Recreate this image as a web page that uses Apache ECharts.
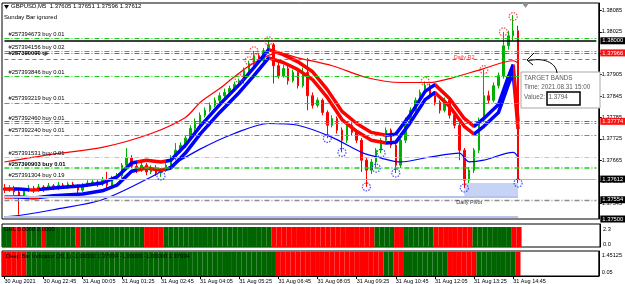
<!DOCTYPE html>
<html><head><meta charset="utf-8">
<script src="https://cdn.jsdelivr.net/npm/echarts@6/dist/echarts.min.js"></script>
<style>html,body{margin:0;padding:0;background:#fff}#c{width:625px;height:284px}</style>
</head><body><div id="c"></div>
<script>
// ---------- DATA ----------
const timeLabels = ['30 Aug 2021','30 Aug 22:45','31 Aug 00:05','31 Aug 01:25','31 Aug 02:45','31 Aug 04:05','31 Aug 05:25','31 Aug 06:45','31 Aug 08:05','31 Aug 09:25','31 Aug 10:45','31 Aug 12:05','31 Aug 13:25','31 Aug 14:45'];
const barsPerLabel = 8;
const totalSlots = 122;

// [open, close, low, high]
const candles = [
[1.37587,1.37581,1.37573,1.37598],[1.37581,1.37587,1.37576,1.37595],[1.37587,1.37576,1.37567,1.37593],[1.37576,1.37567,1.37512,1.37584],
[1.37567,1.37581,1.37562,1.37587],[1.37581,1.37587,1.37576,1.37595],[1.37587,1.37581,1.37573,1.37593],[1.37581,1.37590,1.37576,1.37598],
[1.37590,1.37584,1.37576,1.37595],[1.37584,1.37593,1.37581,1.37601],[1.37593,1.37587,1.37581,1.37598],[1.37587,1.37595,1.37581,1.37604],
[1.37595,1.37590,1.37584,1.37601],[1.37590,1.37598,1.37584,1.37604],[1.37598,1.37593,1.37587,1.37604],[1.37593,1.37581,1.37562,1.37598],
[1.37581,1.37595,1.37576,1.37601],[1.37595,1.37601,1.37590,1.37609],[1.37601,1.37604,1.37595,1.37612],[1.37604,1.37598,1.37590,1.37609],
[1.37598,1.37609,1.37593,1.37618],[1.37609,1.37595,1.37581,1.37632],[1.37595,1.37615,1.37590,1.37621],[1.37615,1.37621,1.37609,1.37629],
[1.37621,1.37651,1.37615,1.37657],[1.37651,1.37671,1.37643,1.37699],[1.37671,1.37648,1.37643,1.37679],[1.37648,1.37637,1.37629,1.37657],
[1.37637,1.37651,1.37632,1.37660],[1.37651,1.37632,1.37623,1.37657],[1.37632,1.37643,1.37626,1.37651],[1.37643,1.37629,1.37621,1.37651],
[1.37629,1.37637,1.37618,1.37643],[1.37637,1.37651,1.37632,1.37657],[1.37651,1.37671,1.37643,1.37679],[1.37671,1.37693,1.37665,1.37713],
[1.37693,1.37707,1.37685,1.37715],[1.37707,1.37727,1.37699,1.37735],[1.37727,1.37754,1.37721,1.37763],[1.37754,1.37771,1.37746,1.37782],
[1.37771,1.37791,1.37763,1.37799],[1.37791,1.37805,1.37785,1.37813],[1.37805,1.37819,1.37799,1.37827],[1.37819,1.37833,1.37813,1.37841],
[1.37833,1.37846,1.37827,1.37855],[1.37846,1.37855,1.37838,1.37866],[1.37855,1.37866,1.37846,1.37874],[1.37866,1.37877,1.37858,1.37885],
[1.37877,1.37888,1.37869,1.37894],[1.37888,1.37916,1.37880,1.37925],[1.37916,1.37936,1.37908,1.37944],[1.37936,1.37958,1.37930,1.37972],
[1.37958,1.37944,1.37936,1.37964],[1.37944,1.37972,1.37938,1.37980],[1.37972,1.37989,1.37964,1.38000],[1.37989,1.37930,1.37880,1.37994],
[1.37930,1.37902,1.37894,1.37941],[1.37902,1.37922,1.37897,1.37933],[1.37922,1.37888,1.37877,1.37930],[1.37888,1.37911,1.37883,1.37919],
[1.37911,1.37874,1.37866,1.37919],[1.37874,1.37911,1.37869,1.37925],[1.37911,1.37846,1.37805,1.37952],[1.37846,1.37819,1.37810,1.37855],
[1.37819,1.37833,1.37813,1.37841],[1.37833,1.37799,1.37791,1.37838],[1.37799,1.37763,1.37727,1.37805],[1.37763,1.37782,1.37757,1.37791],
[1.37782,1.37749,1.37740,1.37788],[1.37749,1.37721,1.37687,1.37757],[1.37721,1.37763,1.37713,1.37771],[1.37763,1.37743,1.37735,1.37771],
[1.37743,1.37721,1.37713,1.37752],[1.37721,1.37665,1.37632,1.37727],[1.37665,1.37637,1.37590,1.37671],[1.37637,1.37660,1.37626,1.37668],
[1.37660,1.37693,1.37643,1.37699],[1.37693,1.37721,1.37685,1.37727],[1.37721,1.37749,1.37713,1.37757],[1.37749,1.37707,1.37699,1.37754],
[1.37707,1.37651,1.37629,1.37713],[1.37651,1.37721,1.37643,1.37727],[1.37721,1.37777,1.37713,1.37785],[1.37777,1.37805,1.37771,1.37813],
[1.37805,1.37833,1.37799,1.37841],[1.37833,1.37855,1.37827,1.37863],[1.37855,1.37874,1.37849,1.37886],[1.37874,1.37846,1.37838,1.37880],
[1.37846,1.37827,1.37819,1.37855],[1.37827,1.37805,1.37796,1.37833],[1.37805,1.37833,1.37799,1.37841],[1.37833,1.37791,1.37782,1.37838],
[1.37791,1.37763,1.37754,1.37799],[1.37763,1.37693,1.37665,1.37771],[1.37693,1.37609,1.37587,1.37699],[1.37609,1.37637,1.37601,1.37646],
[1.37637,1.37693,1.37629,1.37699],[1.37693,1.37777,1.37685,1.37785],[1.37777,1.37846,1.37771,1.37919],[1.37846,1.37833,1.37824,1.37860],
[1.37833,1.37874,1.37827,1.37883],[1.37874,1.37902,1.37866,1.37911],[1.37902,1.37986,1.37894,1.38025],[1.37986,1.38014,1.37975,1.38028],
[1.38014,1.38028,1.38000,1.38072],[1.38028,1.37612,1.37601,1.38042]
];

// Target bands (bar index, upper, lower) and trend sections
const bandIdx   = [0,3,6,10,16,20,23,26,29,32,34,37,40,44,48,51,54,57,60,63,66,69,72,75,78,80,83,86,88,91,94,96,98,101,103,104,105];
const bandUpper = [1.37584,1.37584,1.37581,1.37587,1.37593,1.37601,1.37618,1.37657,1.37665,1.37660,1.37665,1.37707,1.37760,1.37821,1.37877,1.37925,1.37975,1.37961,1.37941,1.37913,1.37863,1.37802,1.37768,1.37743,1.37735,1.37738,1.37793,1.37858,1.37877,1.37838,1.37782,1.37760,1.37782,1.37821,1.37899,1.37933,1.37774];
const bandLower = [1.37562,1.37562,1.37559,1.37565,1.37570,1.37579,1.37595,1.37634,1.37643,1.37637,1.37643,1.37685,1.37738,1.37799,1.37855,1.37902,1.37952,1.37939,1.37919,1.37891,1.37841,1.37779,1.37746,1.37721,1.37713,1.37715,1.37771,1.37835,1.37855,1.37816,1.37760,1.37738,1.37760,1.37799,1.37877,1.37911,1.37752];
const bandBreaks = [0,2.4,5.2,6.8,27,33.2,54.2,77.7,87.9,96.4,103.8,106];
const bandTrend  = ['down','up','down','up','down','up','down','up','down','up','down'];

// Moving averages (bar index, value)
const maRedIdx  = [0,10,20,30,37,40,44,47,51,56,60,67,74,81,87,91,98,104,105];
const maRedVal  = [1.37660,1.37682,1.37701,1.37740,1.37785,1.37827,1.37866,1.37899,1.37938,1.37966,1.37952,1.37930,1.37897,1.37883,1.37883,1.37894,1.37922,1.37944,1.37938];
const maBlueIdx = [0,4,10,20,30,40,47,54,60,67,73,77,81,87,93,95,98,104,105];
const maBlueVal = [1.37506,1.37512,1.37526,1.37554,1.37618,1.37696,1.37740,1.37768,1.37763,1.37729,1.37687,1.37671,1.37660,1.37674,1.37685,1.37660,1.37665,1.37687,1.37674];

// Swing markers
const lowIdx  = [32,66,69,74,76,77,80,94,105];
const lowVal  = [1.37621,1.37726,1.37687,1.37590,1.37643,1.37685,1.37629,1.37587,1.37601];
const highIdx = [48,50,51,54,86,98,102,104];
const highVal = [1.37894,1.37944,1.37972,1.38000,1.37886,1.37919,1.38025,1.38068];

// Horizontal levels
const orderLevels = [1.38008,1.37970,1.37901,1.37826,1.37770,1.37736,1.37674,1.37643,1.37612];
const orderTexts  = ['#257394673 buy 0.01','#257394156 buy 0.02','#257393846 buy 0.01','#257393219 buy 0.01','#257392460 buy 0.01','#257392240 buy 0.01','#257391531 buy 0.01','#257390903 buy 0.01','#257391304 buy 0.19'];
const tpLevels = [1.37966,1.37774];
const tpText = '#257390000 tp';
const roundLevel = 1.38000;
const dailyR2 = 1.37949;
const dailyPivot = 1.37554;
const zoneLines = [1.37562,1.37507];
const pivotZone = [1.37601,1.37564];
const boxLevels = [1.38000,1.37966,1.37774,1.37612,1.37554,1.37500];
const boxKinds  = ['price','tp','tp','price','price','price'];
const yTickValues = [1.38085,1.38025,1.37965,1.37905,1.37845,1.37785,1.37725,1.37665,1.37605,1.37545];

// Indicator panels (1 = green, 0 = red)
const ghlLevel = 2.0;
const ghlSignal = [1,1,0,0,0,1,1,1,0,1, 1,1,1,1,1,0,1,1,1,1, 1,1,1,1,1,1,1,1,1,0, 0,0,0,1,1,1,1,1,1,1, 1,1,1,1,1,1,1,1,1,1, 1,1,1,1,1,0,0,0,0,0, 0,0,0,0,0,0,0,0,0,0, 0,0,0,0,0,0,1,1,1,1, 0,0,1,1,1,1,1,1,0,0, 0,0,0,0,0,0,1,1,1,1, 1,1,1,1,0,0];
const deepLevel = 1.40;
const deepSignal = [0,0,0,0,0,1,1,1,1,1, 1,1,1,1,1,1,1,1,1,1, 1,1,1,1,1,1,1,1,1,1, 1,1,1,1,1,1,1,1,1,1, 1,1,1,1,1,1,1,1,1,1, 1,1,1,1,1,1,0,0,0,0, 0,0,0,0,0,0,0,0,0,0, 0,0,0,0,0,0,0,0,1,1, 0,0,1,1,1,1,1,1,1,1, 1,0,0,0,0,0,0,1,1,1, 1,1,1,1,1,0];

// ---------- BUILD ----------
const FONT = 'Liberation Sans';
const GREEN = '#00b000', RED = '#ff0000', BLUE = '#0000ff';
const DARKGREEN = '#006400';
const dashDot = [5,2,1,2];
const lastBar = candles.length - 1;
const leftEdge = 0, rightEdge = totalSlots - 1;
const cats = Array.from({length: totalSlots}, (_, i) =>
  (i % barsPerLabel === 0 && i / barsPerLabel < timeLabels.length) ? timeLabels[i / barsPerLabel] : '');
const pairs = (idx, vals) => idx.map((x, k) => [x, vals[k]]);
const hLine = (v, lineStyle, label, x0 = leftEdge, x1 = rightEdge) =>
  [{coord: [x0, v], lineStyle: lineStyle, label: label || {show: false}}, {coord: [x1, v], lineStyle: lineStyle}];

const ml = [];
ml.push(hLine(dailyPivot, {color: '#8c8c8c', type: dashDot, width: 1.4}));
zoneLines.forEach(v => ml.push(hLine(v, {color: '#b6c3ee', width: 2, type: 'solid'}, null, 0, lastBar)));
ml.push(hLine(dailyR2, {color: '#ff4040', type: [4, 3], width: 1}));
tpLevels.forEach((v, k) => ml.push(hLine(v, {color: '#ff2a2a', type: dashDot, width: 1},
  k === 0 ? {show: true, position: 'insideStart', distance: [4, 0], formatter: tpText, color: '#000',
    fontSize: 5.8, fontFamily: FONT, fontWeight: 'bold'} : null)));
orderLevels.forEach((v, k) => {
  const last = k === orderLevels.length - 1;
  ml.push(hLine(v,
    {color: last ? '#7ce07c' : (k === 6 ? '#8fe88f' : '#18d018'), type: last ? 'solid' : dashDot, width: k === 7 ? 1.5 : 1.1},
    {show: true, position: 'insideStartTop', distance: [4, 1], formatter: orderTexts[k], color: '#000',
      fontSize: 5.8, fontFamily: FONT, fontWeight: k === 7 ? 'bold' : 'normal'}));
});
ml.push(hLine(roundLevel, {color: '#000', type: 'solid', width: 1.6}));
boxLevels.forEach((v, k) => ml.push(hLine(v, {color: 'rgba(0,0,0,0)', width: 1, type: 'solid'},
  {show: true, position: 'end', distance: 4, formatter: v.toFixed(5), color: '#fff',
    backgroundColor: boxKinds[k] === 'tp' ? '#ff1010' : '#000', padding: [1, 2, 0, 2], fontSize: 5.8, fontFamily: FONT})));

const pieces = bandTrend.map((t, k) => ({gte: bandBreaks[k], lt: bandBreaks[k + 1], color: t === 'up' ? BLUE : RED}));
const circleStyle = c => ({color: 'rgba(0,0,0,0)', borderColor: c, borderWidth: 1.2, borderType: [1.5, 1.2]});

const chart = echarts.init(document.getElementById('c'), null, {renderer: 'canvas', width: 625, height: 284});
chart.setOption({
  animation: false,
  backgroundColor: '#fff',
  textStyle: {fontFamily: FONT},
  grid: [
    {left: 2, right: 25, top: 3, height: 216, show: true, borderColor: '#000', borderWidth: 1},
    {left: 2, right: 25, top: 224, height: 23, show: true, borderColor: '#000', borderWidth: 1},
    {left: 2, right: 25, top: 251, height: 26, show: true, borderColor: '#000', borderWidth: 1}
  ],
  xAxis: [0, 1, 2].map(g => ({
    type: 'category', gridIndex: g, data: cats, boundaryGap: true,
    axisLine: {show: g === 2, lineStyle: {color: '#000'}},
    axisTick: {show: g === 2, alignWithLabel: true, length: 3, interval: (i, v) => v !== '', lineStyle: {color: '#000'}},
    axisLabel: {show: g === 2, interval: (i, v) => v !== '', align: 'left', margin: 2, fontSize: 5.5, color: '#000', fontFamily: FONT},
    splitLine: {show: false}
  })),
  yAxis: [
    {gridIndex: 0, position: 'right', min: 1.375, max: 1.38106, splitLine: {show: false},
      axisLine: {show: true, lineStyle: {color: '#000'}},
      axisTick: {show: true, customValues: yTickValues, length: 3, lineStyle: {color: '#000'}},
      axisLabel: {customValues: yTickValues, formatter: v => v.toFixed(5), fontSize: 5.6, color: '#000', margin: 3, fontFamily: FONT}},
    {gridIndex: 1, position: 'right', min: 0, max: 2.3, splitLine: {show: false},
      axisLine: {show: true, lineStyle: {color: '#000'}}, axisTick: {show: false},
      axisLabel: {customValues: [1.8, 0.3], formatter: v => v > 1 ? '2.3' : '0.0', fontSize: 5.6, color: '#000', margin: 3}},
    {gridIndex: 2, position: 'right', min: 0.05, max: 1.45125, splitLine: {show: false},
      axisLine: {show: true, lineStyle: {color: '#000'}}, axisTick: {show: false},
      axisLabel: {customValues: [1.18, 0.27], formatter: v => v > 1 ? '1.45125' : '0.05', fontSize: 5.6, color: '#000', margin: 3}}
  ],
  visualMap: {type: 'piecewise', show: false, dimension: 0, seriesIndex: [4, 5], pieces: pieces},
  series: [
    {type: 'line', xAxisIndex: 0, yAxisIndex: 0, data: [], z: 1, silent: true,
      markLine: {symbol: ['none', 'none'], silent: true, animation: false, label: {show: false}, data: ml},
      markArea: {silent: true, itemStyle: {color: '#c7d3f4'}, data: [[{coord: [94, pivotZone[0]]}, {coord: [lastBar, pivotZone[1]]}]]},
      markPoint: {symbol: 'circle', symbolSize: 0, silent: true,
        label: {show: true, position: 'inside', fontSize: 5.5, fontFamily: FONT},
        data: [{coord: [94, 1.37954], label: {formatter: 'Daily R2', color: '#ff3030'}},
               {coord: [95, 1.37545], label: {formatter: 'Daily Pivot', color: '#333'}}]}},
    {type: 'candlestick', xAxisIndex: 0, yAxisIndex: 0, data: candles, barWidth: 2, z: 2,
      itemStyle: {color: GREEN, color0: RED, borderColor: GREEN, borderColor0: RED, borderWidth: 1}},
    {type: 'line', xAxisIndex: 0, yAxisIndex: 0, data: pairs(maRedIdx, maRedVal), smooth: 0.3, showSymbol: false, z: 3,
      lineStyle: {color: RED, width: 1.2}},
    {type: 'line', xAxisIndex: 0, yAxisIndex: 0, data: pairs(maBlueIdx, maBlueVal), smooth: 0.3, showSymbol: false, z: 3,
      lineStyle: {color: BLUE, width: 1.2}},
    {type: 'line', xAxisIndex: 0, yAxisIndex: 0, data: pairs(bandIdx, bandUpper), showSymbol: false, z: 4,
      lineStyle: {width: 3.5}},
    {type: 'line', xAxisIndex: 0, yAxisIndex: 0, data: pairs(bandIdx, bandLower), showSymbol: false, z: 4,
      lineStyle: {width: 3.5}},
    {type: 'scatter', xAxisIndex: 0, yAxisIndex: 0, data: pairs(lowIdx, lowVal), symbol: 'circle', symbolSize: 8, z: 5,
      itemStyle: circleStyle('#2020ff')},
    {type: 'scatter', xAxisIndex: 0, yAxisIndex: 0, data: pairs(highIdx, highVal), symbol: 'circle', symbolSize: 8, z: 5,
      itemStyle: circleStyle('#ff2020')},
    {type: 'bar', xAxisIndex: 1, yAxisIndex: 1, barCategoryGap: '0%',
      data: ghlSignal.map(s => ({value: ghlLevel, itemStyle: {color: s ? DARKGREEN : RED}}))},
    {type: 'bar', xAxisIndex: 2, yAxisIndex: 2, barCategoryGap: '0%',
      data: deepSignal.map(s => ({value: deepLevel, itemStyle: {color: s ? DARKGREEN : RED}}))}
  ],
  graphic: [
    {type: 'polygon', z: 100, shape: {points: [[4, 5], [9, 5], [6.5, 9]]}, style: {fill: '#000'}},
    {type: 'text', z: 100, x: 11, y: 3.5, style: {text: 'GBPUSD,M5  1.37605 1.37651 1.37596 1.37612', fontSize: 6, fontFamily: FONT, fill: '#000', align: 'left', verticalAlign: 'top'}},
    {type: 'text', z: 100, x: 4, y: 14, style: {text: 'Sunday Bar ignored', fontSize: 6, fontFamily: FONT, fill: '#000', align: 'left', verticalAlign: 'top'}},
    {type: 'polygon', z: 100, shape: {points: [[522, 3], [529, 3], [525.5, 8]]}, style: {fill: '#909090'}},
    {type: 'text', z: 100, x: 4, y: 226.5, style: {text: 'GHL 0.0000 2.0000', fontSize: 5.8, fontFamily: FONT, fill: '#000', align: 'left', verticalAlign: 'top'}},
    {type: 'text', z: 100, x: 6, y: 253.5, style: {text: 'Deep Bar Indicator (20,1) -1.00000 1.37934 -1.00000 -1.00000 1.37934', fontSize: 5.8, fontFamily: FONT, fill: '#000', align: 'left', verticalAlign: 'top'}},
    {type: 'group', x: 521, y: 72, z: 100, children: [
      {type: 'rect', z: 100, shape: {x: 0, y: 0, width: 79, height: 36}, style: {fill: '#fff', stroke: '#a8a8a8', lineWidth: 1}},
      {type: 'text', z: 101, x: 3, y: 3, style: {text: 'TARGET BANDS', fontSize: 6.3, fontFamily: FONT, fill: '#5a5a5a', align: 'left', verticalAlign: 'top'}},
      {type: 'text', z: 101, x: 3, y: 12.5, style: {text: 'Time: 2021.08.31 15:00', fontSize: 6.3, fontFamily: FONT, fill: '#5a5a5a', align: 'left', verticalAlign: 'top'}},
      {type: 'text', z: 101, x: 3, y: 22.5, style: {text: 'Value2:  1.3794', fontSize: 6.3, fontFamily: FONT, fill: '#5a5a5a', align: 'left', verticalAlign: 'top'}},
      {type: 'rect', z: 101, shape: {x: 26, y: 20, width: 33, height: 13}, style: {fill: null, stroke: '#000', lineWidth: 1.5}}
    ]},
    {type: 'bezierCurve', z: 100, shape: {x1: 557, y1: 73, cpx1: 556, cpy1: 62, cpx2: 542, cpy2: 57, x2: 528, y2: 61}, style: {stroke: '#000', lineWidth: 1, fill: null}},
    {type: 'polyline', z: 100, shape: {points: [[534, 53], [527, 60], [533, 65]]}, style: {stroke: '#000', lineWidth: 1, fill: null}}
  ]
});
</script>
</body></html>
